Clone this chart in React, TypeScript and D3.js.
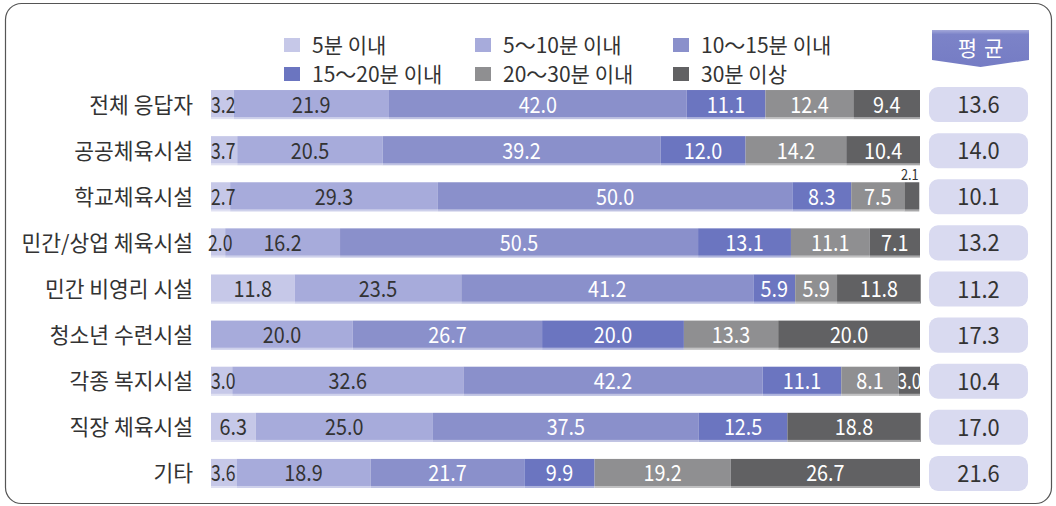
import React from 'react';
import * as d3 from 'd3';

const categories = ['전체 응답자', '공공체육시설', '학교체육시설', '민간/상업 체육시설', '민간 비영리 시설', '청소년 수련시설', '각종 복지시설', '직장 체육시설', '기타'];
const seriesNames = ['5분 이내', '5～10분 이내', '10～15분 이내', '15～20분 이내', '20～30분 이내', '30분 이상'];
const under5 = [3.2, 3.7, 2.7, 2.0, 11.8, 0, 3.0, 6.3, 3.6];
const m5to10 = [21.9, 20.5, 29.3, 16.2, 23.5, 20.0, 32.6, 25.0, 18.9];
const m10to15 = [42.0, 39.2, 50.0, 50.5, 41.2, 26.7, 42.2, 37.5, 21.7];
const m15to20 = [11.1, 12.0, 8.3, 13.1, 5.9, 20.0, 11.1, 12.5, 9.9];
const m20to30 = [12.4, 14.2, 7.5, 11.1, 5.9, 13.3, 8.1, 0, 19.2];
const over30 = [9.4, 10.4, 2.1, 7.1, 11.8, 20.0, 3.0, 18.8, 26.7];
const averages = [13.6, 14.0, 10.1, 13.2, 11.2, 17.3, 10.4, 17.0, 21.6];

const colors = ['#c6c8e8', '#a7abdb', '#8a90cb', '#6b75c0', '#8f8f91', '#616163'];
const textColors = ['#333', '#333', '#fff', '#fff', '#fff', '#fff'];

const series = [under5, m5to10, m10to15, m15to20, m20to30, over30];
const KR = '"Noto Sans CJK KR", "Noto Sans", sans-serif';

export default function App() {
  const x = d3.scaleLinear().domain([0, 100]).range([211, 920]);
  const y = d3.scaleBand<string>().domain(categories).range([81.5, 496.5]).paddingInner(0.37).paddingOuter(0.185);
  const bw = y.bandwidth();

  const rows = categories.map((c, i) => {
    const vals = series.map((s) => s[i]);
    let acc = 0;
    const segs = vals.map((v, k) => {
      const s = { k, v, x0: acc, x1: acc + v };
      acc += v;
      return s;
    });
    return { c, i, segs };
  });

  const legendX = [284, 475, 673];
  const legendY = [38, 67];

  const num = (cx: number, cy: number, txt: string, fill: string, size = 21, sx = 0.88, key?: string, anchor = 'middle') => (
    <text key={key} transform={`translate(${cx},${cy}) scale(${sx},1)`} textAnchor={anchor} fontFamily={KR} fontSize={size} fill={fill}>
      {txt}
    </text>
  );

  return (
    <svg width={1056} height={506} style={{ position: 'absolute', left: 0, top: 0, background: '#fff' }}>
      <rect x={5.5} y={3.5} width={1046} height={500} rx={16} fill="none" stroke="#555" strokeWidth={1.2} />

      {seriesNames.map((n, k) => {
        const col = k % 3;
        const row = Math.floor(k / 3);
        return (
          <g key={n}>
            <rect x={legendX[col]} y={legendY[row]} width={16} height={14} fill={colors[k]} />
            <text x={legendX[col] + 28} y={legendY[row] + 15} fontFamily={KR} fontSize={21} fill="#333">{n}</text>
          </g>
        );
      })}

      <defs>
        <linearGradient id="ban" x1="0" y1="0" x2="0" y2="1">
          <stop offset="0" stopColor="#a3a8da" />
          <stop offset="0.12" stopColor="#7c83c8" />
          <stop offset="1" stopColor="#757cc4" />
        </linearGradient>
      </defs>
      <polygon points="932,30 1029,30 1029,60 980.5,67 932,60" fill="url(#ban)" />
      <text x={980.5} y={56} textAnchor="middle" fontFamily={KR} fontSize={21} fill="#fff" letterSpacing={7} dx={3.5}>평균</text>

      {rows.map((r) => {
        const top = y(r.c)!;
        const cy = top + bw / 2;
        return (
          <g key={r.c}>
            <text x={193} y={cy + 8} textAnchor="end" fontFamily={KR} fontSize={21.5} fill="#333">{r.c}</text>
            {r.segs.filter((s) => s.v > 0).map((s) => (
              <rect key={s.k} x={x(s.x0)} y={top} width={x(s.x1) - x(s.x0)} height={bw} fill={colors[s.k]} />
            ))}
            <rect x={x(0)} y={top + bw - 2} width={x(100) - x(0)} height={2} fill="#fff" opacity={0.45} />
            {r.segs.filter((s) => s.v > 0).map((s) => {
              const w = x(s.x1) - x(s.x0);
              const mx = (x(s.x0) + x(s.x1)) / 2;
              if (s.k > 0 && w < 18) {
                return num(mx - 2, top - 2, s.v.toFixed(1), '#333', 15, 0.85, 'l' + s.k);
              }
              if (s.k === 0 && w < 30) {
                return num(x(0) - (w < 18 ? 3 : 0), cy + 8, s.v.toFixed(1), textColors[s.k], 22, 0.8, 'l' + s.k, 'start');
              }
              const sx = w < 24 ? 0.78 : 0.9;
              return num(mx, cy + 8, s.v.toFixed(1), textColors[s.k], 22, sx, 'l' + s.k);
            })}
            <rect x={929} y={top - 3} width={99} height={bw + 6} rx={9} fill="#d9daf0" />
            {num(978.5, cy + 8.5, averages[r.i].toFixed(1), '#333', 23, 0.95)}
          </g>
        );
      })}
    </svg>
  );
}
